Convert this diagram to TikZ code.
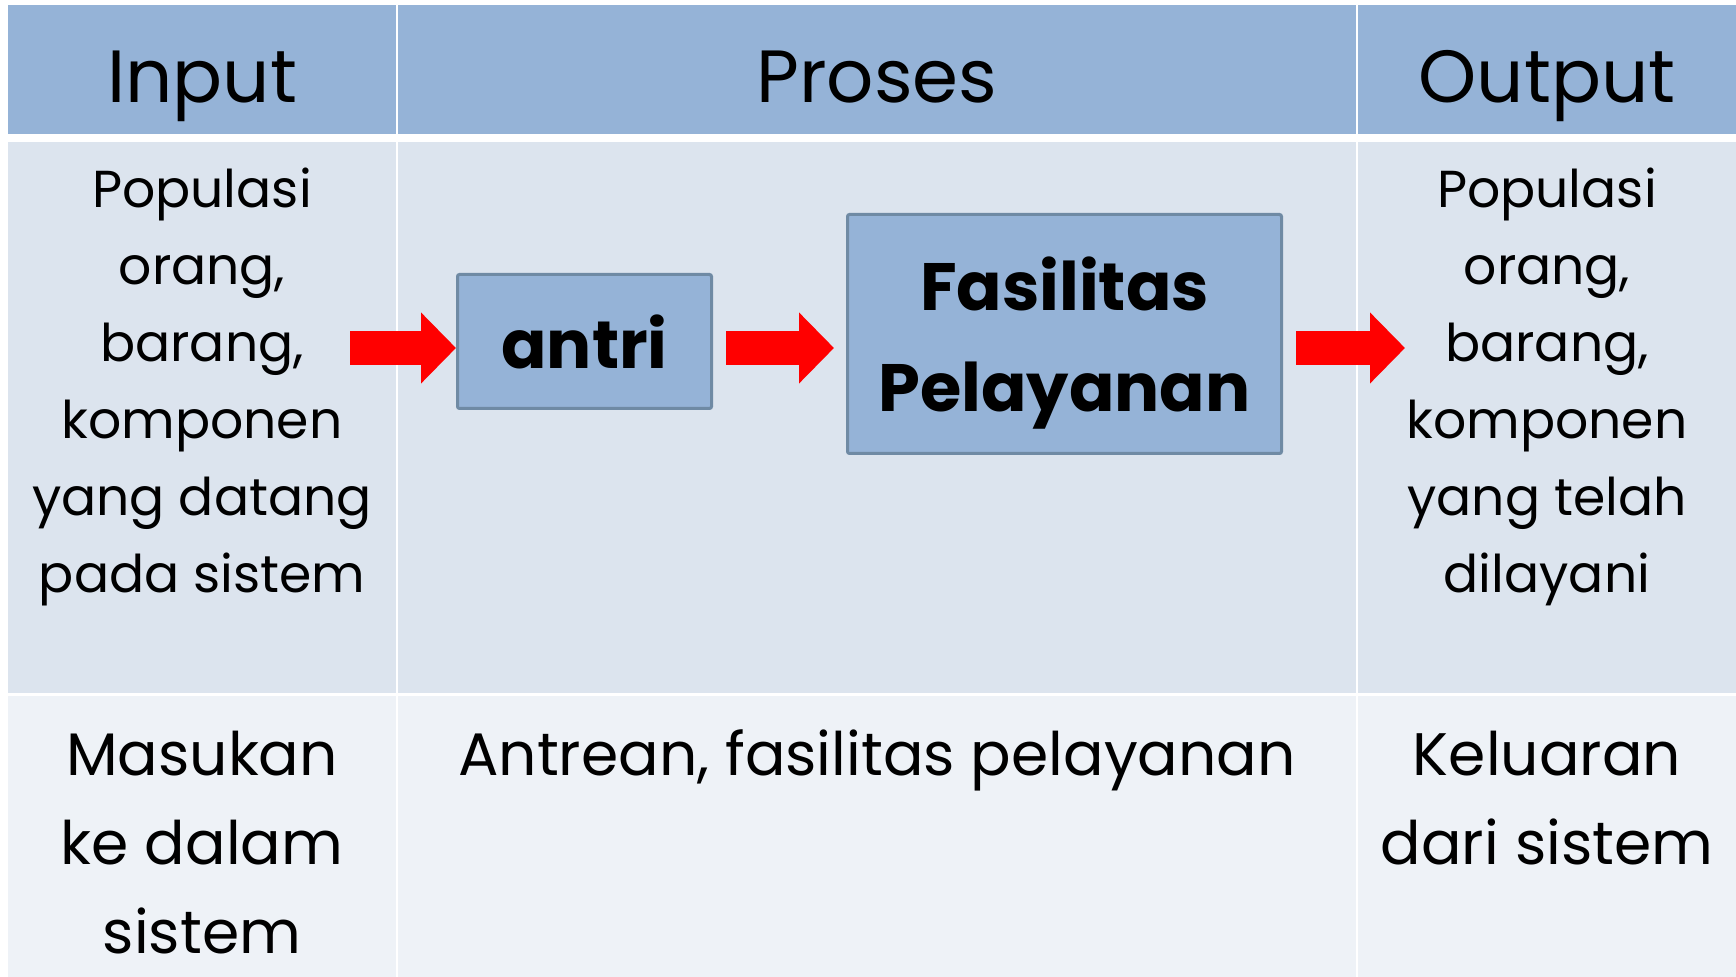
\documentclass[tikz,border=0pt]{standalone}
\usepackage{fontspec}
\setmainfont{Poppins}
\usetikzlibrary{arrows.meta,calc}
\definecolor{headblue}{HTML}{95B3D7}
\definecolor{rowblue}{HTML}{DCE4EE}
\definecolor{rowpale}{HTML}{EEF2F7}
\definecolor{boxline}{HTML}{6F8AA4}

\begin{document}
\begin{tikzpicture}[x=0.5pt, y=-0.5pt,
	cell/.style={align=center, inner sep=0pt, anchor=base},
	headtext/.style={cell, font=\fontsize{37}{44}\selectfont},
	bodytext/.style={cell, font=\fontsize{26}{38.5}\selectfont},
	foottext/.style={cell, font=\fontsize{30}{44.5}\selectfont},
	procbox/.style={draw=boxline, line width=1.5pt, fill=headblue, rounded corners=1pt, inner sep=0pt, text depth=0pt, align=center, font=\bfseries\fontsize{33.5}{50.5}\selectfont},
	redarrow/.style={draw=red, line width=17pt, -{Triangle[length=17.5pt, width=34.5pt]}}]
	\useasboundingbox (0,0) rectangle (1736,977);
	\fill[white] (0,0) rectangle (1736,977);
%	table cells
	\fill[headblue] (8,5) rectangle (396,134);
	\fill[headblue] (398,5) rectangle (1356,134);
	\fill[headblue] (1358,5) rectangle (1736,134);
	\fill[rowblue] (8,142) rectangle (396,693);
	\fill[rowblue] (398,142) rectangle (1356,693);
	\fill[rowblue] (1358,142) rectangle (1736,693);
	\fill[rowpale] (8,696) rectangle (396,977);
	\fill[rowpale] (398,696) rectangle (1356,977);
	\fill[rowpale] (1358,696) rectangle (1736,977);
%	header
	\node[headtext] (input) at (202,103) {Input};
	\node[headtext] (proses) at (877,103) {Proses};
	\node[headtext] (output) at (1547,103) {Output};
%	second row (anchored on the last line)
	\node[bodytext] (masuk) at (202,593) {Populasi\\orang,\\barang,\\komponen\\yang datang\\pada sistem};
	\node[bodytext] (keluar) at (1547,593) {Populasi\\orang,\\barang,\\komponen\\yang telah\\dilayani};
	\node[procbox, minimum width=127pt, minimum height=67pt] (antri) at (584.5,341.5) {antri};
	\node[procbox, minimum width=217pt, minimum height=119.5pt] (fas) at (1064.5,334) {Fasilitas\\Pelayanan};
	\coordinate (in) at (350,348);
	\coordinate (out) at (1405,348);
	\draw[redarrow] (in) -- (in -| antri.west);
	\draw[redarrow] ($(antri.east |- in)+(13,0)$) -- ($(fas.west |- in)+(-12,0)$);
	\draw[redarrow] ($(fas.east |- in)+(13,0)$) -- (out);
%	third row
	\node[foottext] (masukan) at (202,954) {Masukan\\ke dalam\\sistem};
	\node[foottext] (antrean) at (877,776) {Antrean, fasilitas pelayanan};
	\node[foottext] (keluaran) at (1547,865) {Keluaran\\dari sistem};
\end{tikzpicture}
\end{document}
